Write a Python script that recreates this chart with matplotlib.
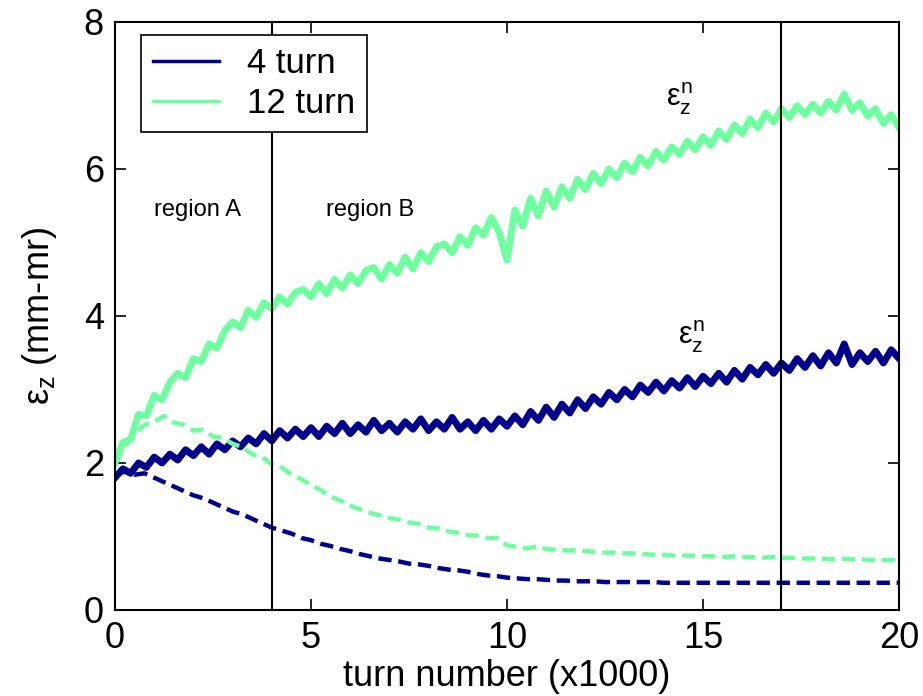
import matplotlib
matplotlib.use("Agg")
import matplotlib.pyplot as plt
import numpy as np

plt.rcParams['font.family'] = ['Liberation Sans', 'DejaVu Sans']
plt.rcParams['mathtext.fontset'] = 'custom'
plt.rcParams['mathtext.rm'] = 'Liberation Sans'
plt.rcParams['mathtext.it'] = 'Liberation Sans'

# turn number (x1000) for the noisy solid curves and the smoother dashed ones
turns_solid = np.linspace(0, 20, 101)
turns_dashed = np.linspace(0, 20, 81)

# 12 turn, upper (solid) curve
green_solid = [
    2.00, 2.28, 2.32, 2.66, 2.64, 2.92, 2.86, 3.10, 3.22, 3.16,
    3.42, 3.38, 3.62, 3.56, 3.80, 3.92, 3.84, 4.08, 3.98, 4.18,
    4.10, 4.26, 4.16, 4.32, 4.36, 4.26, 4.44, 4.30, 4.50, 4.38,
    4.56, 4.44, 4.62, 4.66, 4.50, 4.70, 4.58, 4.80, 4.64, 4.86,
    4.74, 4.94, 4.98, 4.86, 5.08, 4.96, 5.20, 5.10, 5.34, 5.14,
    4.76, 5.44, 5.22, 5.60, 5.36, 5.70, 5.48, 5.76, 5.60, 5.86,
    5.72, 5.94, 5.80, 6.00, 5.88, 6.08, 5.96, 6.16, 6.04, 6.24,
    6.12, 6.30, 6.20, 6.38, 6.26, 6.44, 6.32, 6.52, 6.40, 6.60,
    6.48, 6.68, 6.56, 6.76, 6.64, 6.82, 6.70, 6.86, 6.74, 6.88,
    6.76, 6.92, 6.80, 7.02, 6.80, 6.90, 6.72, 6.82, 6.62, 6.74,
    6.56,
]

# 4 turn, upper (solid) curve
blue_solid = [
    1.80, 1.92, 1.86, 2.00, 1.94, 2.08, 2.00, 2.12, 2.04, 2.18,
    2.10, 2.22, 2.12, 2.26, 2.18, 2.30, 2.22, 2.34, 2.26, 2.40,
    2.30, 2.44, 2.34, 2.46, 2.36, 2.48, 2.36, 2.50, 2.40, 2.54,
    2.40, 2.52, 2.42, 2.58, 2.44, 2.54, 2.42, 2.56, 2.46, 2.60,
    2.44, 2.56, 2.46, 2.62, 2.46, 2.56, 2.44, 2.58, 2.46, 2.60,
    2.50, 2.64, 2.52, 2.70, 2.58, 2.76, 2.62, 2.80, 2.68, 2.86,
    2.74, 2.90, 2.80, 2.96, 2.86, 3.00, 2.90, 3.06, 2.96, 3.10,
    2.98, 3.12, 3.02, 3.16, 3.04, 3.18, 3.08, 3.22, 3.10, 3.26,
    3.14, 3.30, 3.20, 3.34, 3.22, 3.36, 3.26, 3.42, 3.30, 3.46,
    3.32, 3.50, 3.36, 3.62, 3.34, 3.50, 3.38, 3.52, 3.36, 3.54,
    3.42,
]

# 12 turn, lower (dashed) curve
green_dashed = [
    2.00, 2.22, 2.38, 2.52, 2.56, 2.64, 2.55, 2.52, 2.44, 2.45,
    2.36, 2.34, 2.26, 2.22, 2.12, 2.08, 1.98, 1.94, 1.84, 1.78,
    1.70, 1.63, 1.54, 1.49, 1.42, 1.37, 1.32, 1.29, 1.25, 1.23,
    1.19, 1.17, 1.12, 1.11, 1.07, 1.05, 1.02, 1.01, 0.98, 0.98,
    0.88, 0.86, 0.84, 0.86, 0.83, 0.82, 0.81, 0.81, 0.80, 0.79,
    0.78, 0.78, 0.77, 0.77, 0.76, 0.75, 0.75, 0.74, 0.74, 0.74,
    0.73, 0.73, 0.72, 0.73, 0.72, 0.72, 0.71, 0.72, 0.71, 0.71,
    0.70, 0.70, 0.70, 0.69, 0.70, 0.69, 0.69, 0.68, 0.68, 0.68,
    0.68,
]

# 4 turn, lower (dashed) curve
blue_dashed = [
    1.85, 1.88, 1.84, 1.86, 1.80, 1.74, 1.68, 1.62, 1.56, 1.52,
    1.46, 1.40, 1.34, 1.30, 1.24, 1.18, 1.12, 1.08, 1.04, 0.98,
    0.95, 0.90, 0.87, 0.83, 0.80, 0.76, 0.73, 0.70, 0.68, 0.66,
    0.63, 0.62, 0.60, 0.57, 0.55, 0.54, 0.52, 0.49, 0.47, 0.46,
    0.44, 0.43, 0.42, 0.42, 0.41, 0.40, 0.40, 0.39, 0.39, 0.39,
    0.38, 0.38, 0.38, 0.38, 0.38, 0.38, 0.37, 0.37, 0.37, 0.37,
    0.37, 0.37, 0.37, 0.37, 0.37, 0.37, 0.37, 0.37, 0.37, 0.37,
    0.37, 0.37, 0.37, 0.37, 0.37, 0.37, 0.37, 0.37, 0.37, 0.37,
    0.37,
]

region_bounds = [4, 17]

blue = '#00008C'
green = '#70FFA0'

fig = plt.figure(figsize=(9.23, 6.96), dpi=100)
ax = fig.add_axes([0.1246, 0.1236, 0.8495, 0.8448])

# noisy solid curves (thick so the jitter reads as a band)
ax.plot(turns_solid, blue_solid, color=blue, lw=5, label='4 turn')
ax.plot(turns_solid, green_solid, color=green, lw=5, label='12 turn')

# dashed curves
ax.plot(turns_dashed, green_dashed, color=green, lw=3.2, ls=(0, (3, 1.5)))
ax.plot(turns_dashed, blue_dashed, color=blue, lw=3.2, ls=(0, (3, 1.5)))

# region boundaries
for xb in region_bounds:
    ax.axvline(xb, color='black', lw=1.5)

ax.text(2.1, 5.44, 'region A', fontsize=17, ha='center', va='center')
ax.text(6.5, 5.44, 'region B', fontsize=17, ha='center', va='center')
ax.text(14.4, 6.95, r'$\epsilon_z^n$', fontsize=22, ha='center', va='center')
ax.text(14.7, 3.72, r'$\epsilon_z^n$', fontsize=22, ha='center', va='center')

ax.set_xlim(0, 20)
ax.set_ylim(0, 8)
ax.set_xticks([0, 5, 10, 15, 20])
ax.set_yticks([0, 2, 4, 6, 8])
ax.tick_params(direction='in', top=True, right=True, length=8, width=1.2,
               labelsize=26, pad=8)
for sp in ax.spines.values():
    sp.set_linewidth(1.5)

ax.set_xlabel('turn number (x1000)', fontsize=26, labelpad=2)
ax.set_ylabel(r'$\epsilon_z$ (mm-mr)', fontsize=26, labelpad=18)

leg = ax.legend(loc='upper left', bbox_to_anchor=(0.033, 0.978), borderaxespad=0,
                fontsize=25, fancybox=False, framealpha=1, edgecolor='black',
                handlelength=1.9, handletextpad=0.8, borderpad=0.35, labelspacing=0.2)
leg.get_frame().set_linewidth(1.2)
for ln in leg.get_lines():
    ln.set_linewidth(2.5)

fig.savefig('out.png', dpi=100)
